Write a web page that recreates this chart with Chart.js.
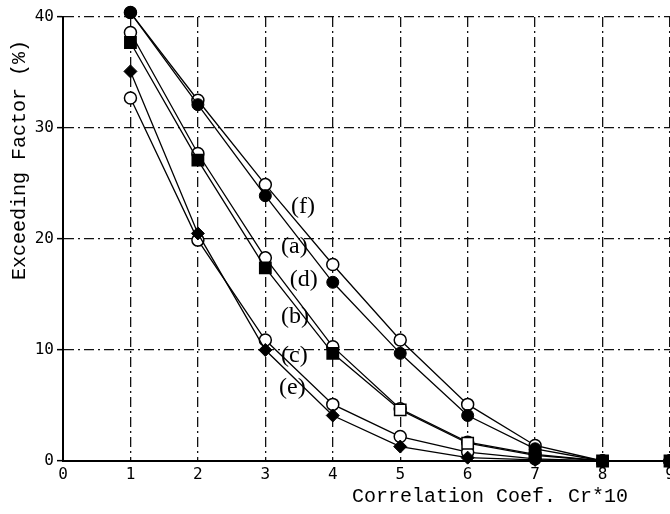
<!DOCTYPE html>
<html>
<head>
<meta charset="utf-8">
<script src="https://cdn.jsdelivr.net/npm/chart.js@4/dist/chart.umd.min.js"></script>
<style>
  html, body { margin: 0; padding: 0; background: #fff; overflow: hidden; width: 670px; height: 514px; }
  #wrap { position: absolute; left: 0; top: 0; width: 684px; height: 514px; }
</style>
</head>
<body>
<div id="wrap"><canvas id="c" width="684" height="514"></canvas></div>
<script>
// Correlation coefficient (Cr*10)
const corr = [1, 2, 3, 4, 5, 6, 7, 8, 9];

// Exceeding factor (%) for each case
const caseF = [40.4, 32.5, 24.9, 17.7, 10.9, 5.1, 1.4, 0, 0];
const caseA = [40.4, 32.1, 23.9, 16.1, 9.7, 4.1, 1.1, 0, 0];
const caseD = [38.6, 27.7, 18.3, 10.3, 4.7, 1.7, 0.6, 0, 0];
const caseB = [37.7, 27.1, 17.4, 9.7, 4.6, 1.6, 0.5, 0, 0];
const caseC = [32.7, 19.9, 10.9, 5.1, 2.2, 0.8, 0.2, 0, 0];
const caseE = [35.1, 20.5, 10.0, 4.1, 1.3, 0.3, 0.1, 0, 0];

// Curve tags and where they sit (in data units)
const curveTags = ['(f)', '(a)', '(d)', '(b)', '(c)', '(e)'];
const tagX = [3.56, 3.43, 3.57, 3.44, 3.43, 3.40];
const tagY = [22.9, 19.3, 16.3, 13.0, 9.5, 6.6];

const xTitle = 'Correlation Coef. Cr*10';
const yTitle = 'Exceeding Factor (%)';

const pts = vals => corr.map((x, i) => ({ x, y: vals[i] }));

const openCircle = {
  pointStyle: 'circle', pointRadius: 6, pointBackgroundColor: '#fff',
  pointBorderColor: '#000', pointBorderWidth: 1.5, order: 2
};
const filled = (style, r) => ({
  pointStyle: style, pointRadius: r, pointBackgroundColor: '#000',
  pointBorderColor: '#000', pointBorderWidth: 1, order: 1
});

const common = { borderColor: '#000', borderWidth: 1.3, tension: 0, fill: false, clip: false };

const datasets = [
  Object.assign({ label: '(f)', data: pts(caseF) }, common, openCircle),
  Object.assign({ label: '(a)', data: pts(caseA) }, common, filled('circle', 6)),
  Object.assign({ label: '(d)', data: pts(caseD) }, common, openCircle),
  Object.assign({ label: '(b)', data: pts(caseB) }, common, filled('rect', 8),
    { pointBackgroundColor: ['#000', '#000', '#000', '#000', '#fff', '#fff', '#000', '#000', '#000'], pointBorderWidth: 1.5 }),
  Object.assign({ label: '(c)', data: pts(caseC) }, common, openCircle),
  Object.assign({ label: '(e)', data: pts(caseE) }, common, filled('rectRot', 6.5))
];

// Curve tags drawn at data positions
const tagPlugin = {
  id: 'curveTags',
  afterDatasetsDraw(chart) {
    const { ctx, scales: { x, y } } = chart;
    ctx.save();
    ctx.fillStyle = '#000';
    ctx.font = '24px "Liberation Serif", serif';
    ctx.textAlign = 'center';
    ctx.textBaseline = 'middle';
    curveTags.forEach((t, i) => ctx.fillText(t, x.getPixelForValue(tagX[i]), y.getPixelForValue(tagY[i])));
    ctx.restore();
  }
};

// Axis titles: y title towards the top of the axis, x title towards the right end
const titlePlugin = {
  id: 'axisTitles',
  afterDraw(chart) {
    const { ctx, chartArea } = chart;
    ctx.save();
    ctx.fillStyle = '#000';
    ctx.font = '20px "Liberation Mono", monospace';
    ctx.textBaseline = 'middle';
    ctx.textAlign = 'right';
    ctx.fillText(xTitle, 628, chartArea.bottom + 36);
    ctx.translate(20, chartArea.top + 143);
    ctx.rotate(-Math.PI / 2);
    ctx.textAlign = 'center';
    ctx.fillText(yTitle, 0, 0);
    ctx.restore();
  }
};

// Dash-dot grid (in Chart.js v4 the grid dash comes from border.dash)
const gridStyle = { color: '#111', lineWidth: 1.3, tickBorderDash: [] };
const axisBorder = { display: true, color: '#000', width: 2, dash: [10, 4, 2, 4] };

new Chart(document.getElementById('c'), {
  type: 'line',
  data: { datasets },
  options: {
    responsive: false,
    devicePixelRatio: 1,
    animation: false,
    layout: { padding: { left: 0, top: 17, right: 14, bottom: 0 } },
    plugins: { legend: { display: false }, tooltip: { enabled: false } },
    scales: {
      x: {
        type: 'linear', min: 0, max: 9,
        ticks: { stepSize: 1, color: '#000', padding: 4, font: { family: '"DejaVu Sans Mono", monospace', size: 16 } },
        grid: Object.assign({ drawTicks: false }, gridStyle),
        border: axisBorder,
        afterFit: s => { s.height = 53; }
      },
      y: {
        type: 'linear', min: 0, max: 40,
        ticks: { stepSize: 10, color: '#000', padding: 3, font: { family: '"DejaVu Sans Mono", monospace', size: 16 } },
        grid: Object.assign({ tickLength: 6, tickColor: '#000', tickWidth: 1.5 }, gridStyle),
        border: axisBorder,
        afterFit: s => { s.width = 63; }
      }
    }
  },
  plugins: [tagPlugin, titlePlugin]
});
</script>
</body>
</html>
